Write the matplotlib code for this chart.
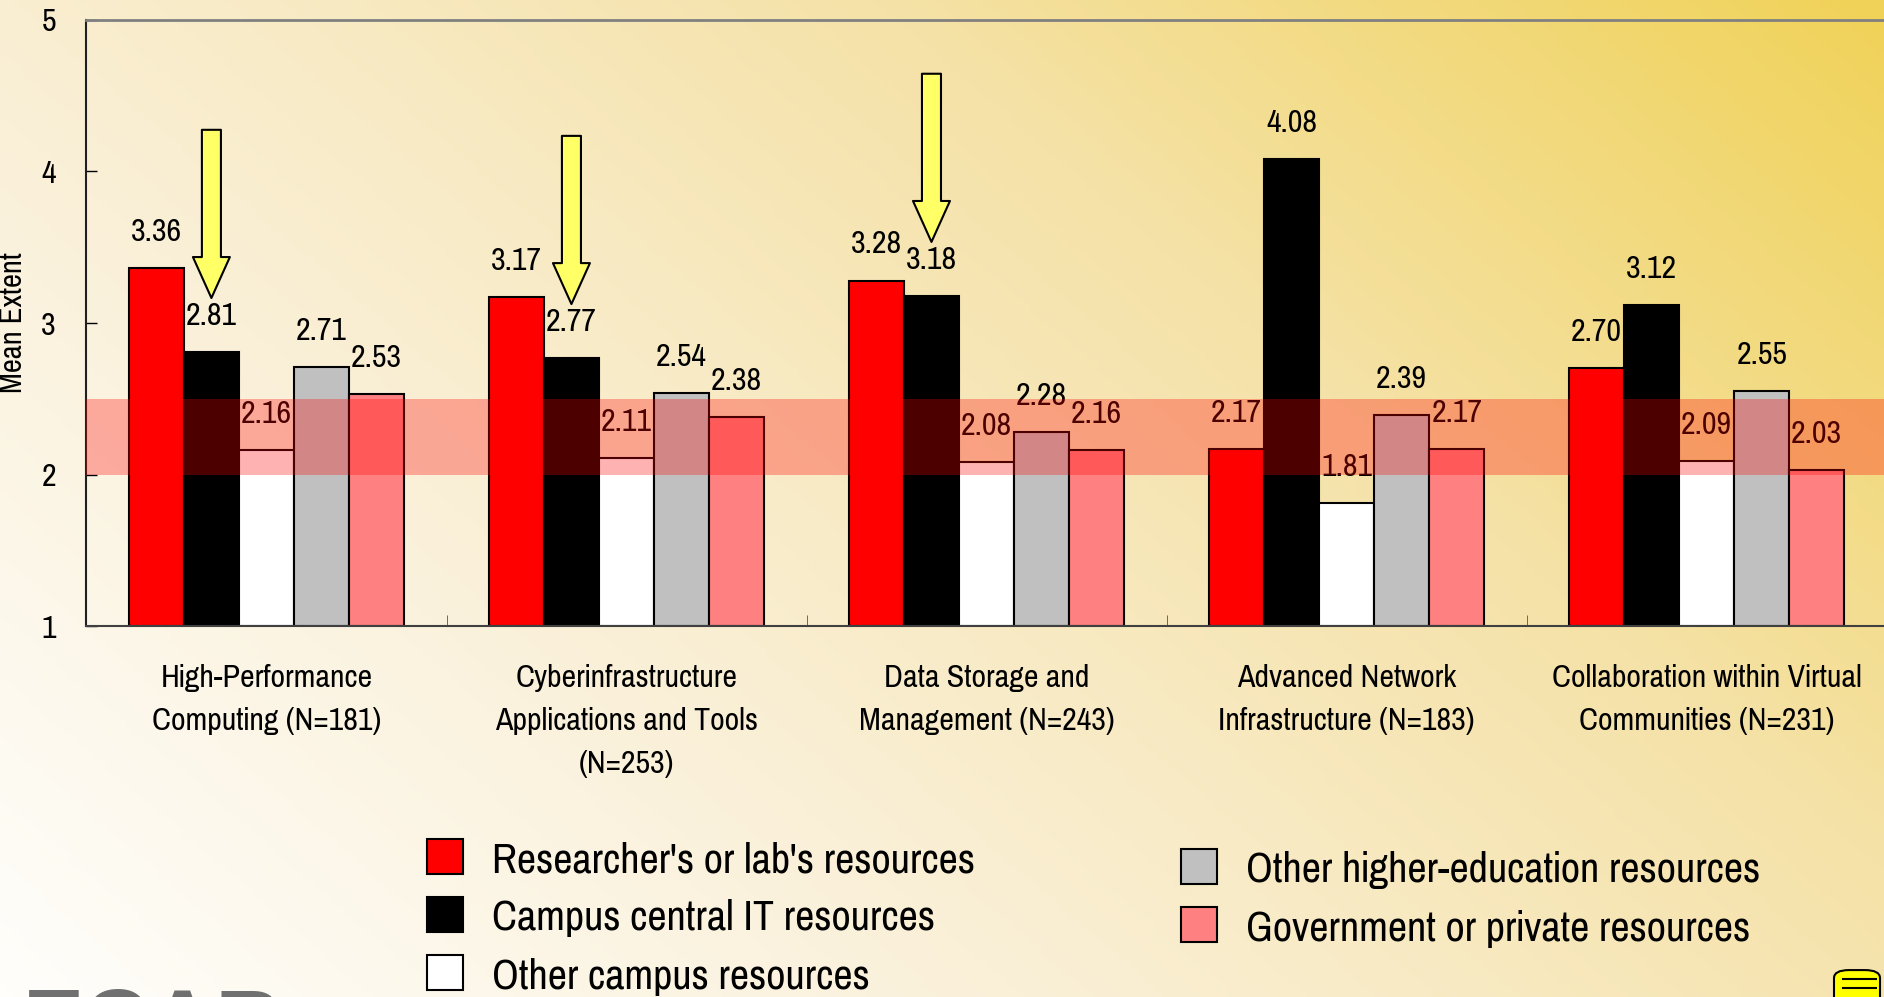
import numpy as np
import matplotlib.pyplot as plt
from matplotlib.colors import LinearSegmentedColormap
from matplotlib.patches import FancyBboxPatch

plt.rcParams['font.family'] = ['Pragati Narrow', 'Archivo Narrow', 'DejaVu Sans']

categories = ["High-Performance\nComputing (N=181)",
              "Cyberinfrastructure\nApplications and Tools\n(N=253)",
              "Data Storage and\nManagement (N=243)",
              "Advanced Network\nInfrastructure (N=183)",
              "Collaboration within Virtual\nCommunities (N=231)"]
series = ["Researcher's or lab's resources",
          "Campus central IT resources",
          "Other campus resources",
          "Other higher-education resources",
          "Government or private resources"]
researcher = [3.36, 3.17, 3.28, 2.17, 2.70]
campus_it = [2.81, 2.77, 3.18, 4.08, 3.12]
other_campus = [2.16, 2.11, 2.08, 1.81, 2.09]
higher_ed = [2.71, 2.54, 2.28, 2.39, 2.55]
government = [2.53, 2.38, 2.16, 2.17, 2.03]
values = [researcher, campus_it, other_campus, higher_ed, government]
colors = ['#ff0000', '#000000', '#ffffff', '#c0c0c0', '#ff8080']
arrow_groups = [0, 1, 2]   # groups with a yellow arrow over the campus IT bar
band = (2.0, 2.5)

fig = plt.figure(figsize=(18.84, 9.97), dpi=100)

# background gradient: white bottom-left -> gold top-right
bg = fig.add_axes([0, 0, 1, 1], zorder=-10)
gx, gy = np.meshgrid(np.linspace(0, 1, 300), np.linspace(0, 1, 200))
grad = np.clip(0.62 * gx + 0.38 * gy, 0, 1)
cmap = LinearSegmentedColormap.from_list('bg', ['#fffefb', '#faf0d8', '#f5e2a8', '#f0d258'])
bg.imshow(grad, cmap=cmap, origin='lower', extent=[0, 1, 0, 1], aspect='auto')
bg.set_axis_off()

ax = fig.add_axes([0.0459, 0.372, 0.9555, 0.608])
ax.set_facecolor('none')

x = np.arange(len(categories))
w = 0.153
bars = []
for i, (vals, col) in enumerate(zip(values, colors)):
    b = ax.bar(x + (i - 2) * w, np.array(vals) - 1, w, bottom=1, color=col,
               edgecolor='black', linewidth=1.5, label=series[i], zorder=2)
    bars.append(b)
    for xi, v in zip(x + (i - 2) * w, vals):
        ax.annotate(f"{v:.2f}", (xi, v), xytext=(0, 26), textcoords='offset points',
                    ha='center', va='center', fontsize=25, zorder=3)

ax.axhspan(band[0], band[1], color='#ff0000', alpha=0.3, lw=0, zorder=5)

for g in arrow_groups:
    xv = x[g] - w
    tip = campus_it[g] + 0.355
    ax.annotate('', xy=(xv, tip), xytext=(xv, tip + 1.11),
                arrowprops=dict(arrowstyle='simple,head_length=2.95,head_width=2.66,tail_width=1.37',
                                mutation_scale=10, fc='#ffff66', ec='black', lw=1.5,
                                shrinkA=0, shrinkB=0), zorder=6)

ax.set_xlim(-0.5, len(categories) - 0.5)
ax.set_ylim(1, 5)
ax.set_yticks([1, 2, 3, 4, 5])
ax.tick_params(axis='y', direction='in', length=8, width=1, labelsize=25, pad=22)
ax.set_xticks(x)
ax.set_xticklabels(categories, fontsize=25, linespacing=1.67)
ax.tick_params(axis='x', which='major', length=0, pad=27)
ax.set_xticks(np.arange(len(categories) + 1) - 0.5, minor=True)
ax.tick_params(axis='x', which='minor', direction='in', length=8, color='#555555')
ax.set_ylabel('Mean Extent', fontsize=24)
ax.yaxis.set_label_coords(-0.033, 0.5)
ax.spines['top'].set_color('#808080')
ax.spines['top'].set_linewidth(2)
ax.spines['left'].set_color('#202020')
ax.spines['bottom'].set_color('#404040')
ax.spines['left'].set_linewidth(1.5)
ax.spines['bottom'].set_linewidth(1.5)

leg_kw = dict(frameon=False, fontsize=33, handlelength=0.79, handleheight=0.79,
              handletextpad=0.63, labelspacing=0.39, borderpad=0, borderaxespad=0,
              loc='upper left')
fig.legend(handles=bars[:3], labels=series[:3], bbox_to_anchor=(0.2266, 0.1586), **leg_kw)
fig.legend(handles=bars[3:], labels=series[3:], bbox_to_anchor=(0.627, 0.1484), **leg_kw)

# partial logo and note icon at the bottom edge
fig.text(0.012, -0.057, 'ECAR', fontsize=66, fontweight='bold', color='#707070',
         family=['Liberation Sans', 'DejaVu Sans'], va='baseline', ha='left')
note = FancyBboxPatch((1834 / 1884, -0.03), 46 / 1884, 0.057,
                      boxstyle='round,pad=0,rounding_size=0.008', transform=fig.transFigure,
                      fc='#ffff00', ec='black', lw=1.5)
fig.patches.append(note)
for yy in [979, 988]:
    fig.lines.append(plt.Line2D([1843 / 1884, 1876 / 1884], [1 - yy / 997] * 2,
                                transform=fig.transFigure, color='black', lw=1.5))

fig.savefig('out.png', dpi=100)
